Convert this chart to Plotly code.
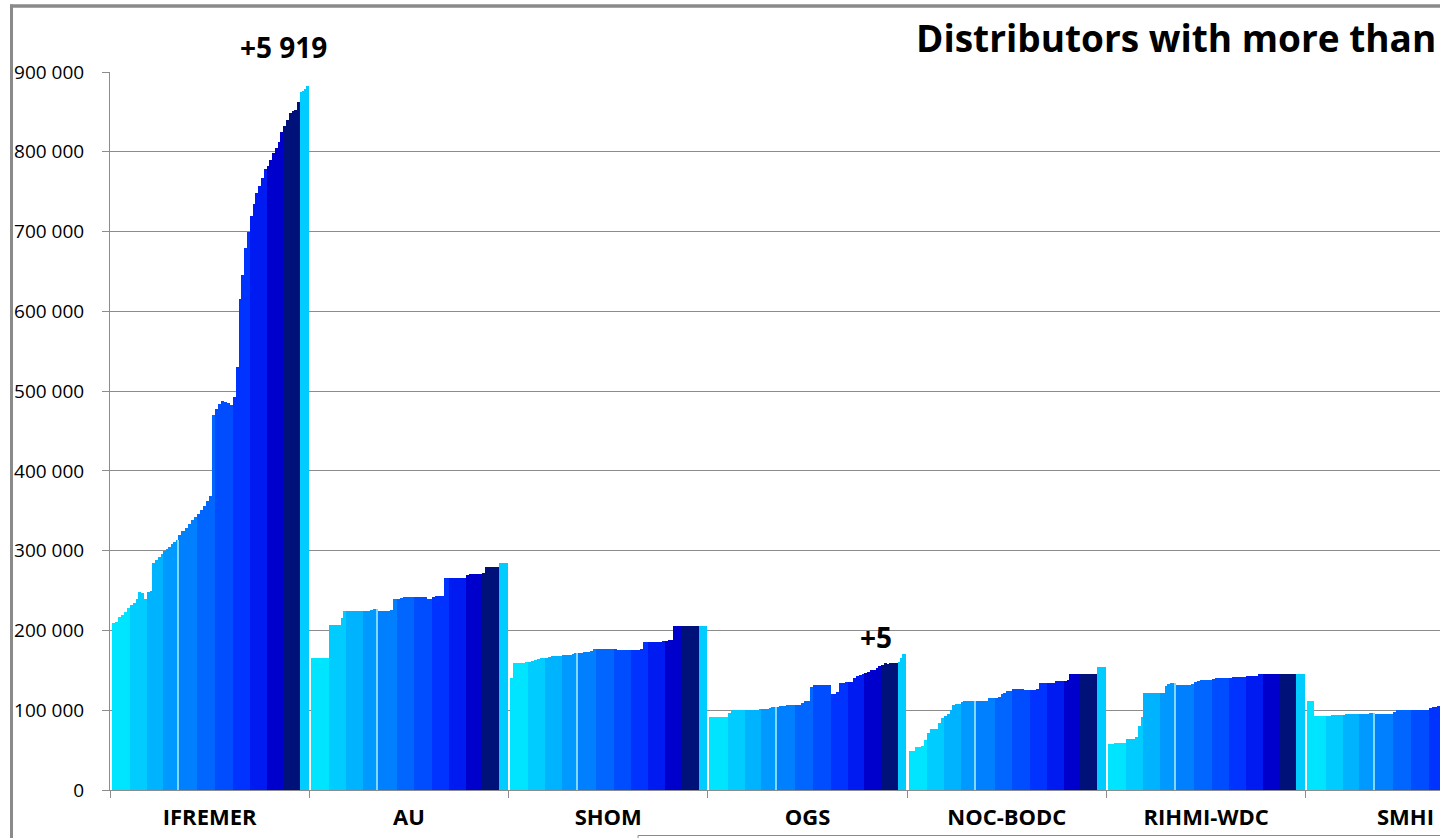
import plotly.graph_objects as go

# ---------------- data (values in thousands) ----------------
categories = ["IFREMER", "AU", "SHOM", "OGS", "NOC-BODC", "RIHMI-WDC", "SMHI"]

ifremer_bands = [
    [209, 210, 217, 219, 223, 228],
    [232, 235, 240, 248, 247, 240],
    [248, 249, 284, 288, 292, 296],
    [299, 302, 305, 308, 311, 313],
    [320, 325, 329, 333, 338, 342],
    [346, 351, 356, 362, 368, 470],
    [478, 484, 487, 486, 485, 482],
    [492, 530, 615, 645, 680, 700],
    [720, 735, 748, 757, 767, 778],
    [782, 790, 798, 805, 812, 825],
    [832, 840, 848, 851, 853, 862],
]
ifremer_final = [875, 876, 879, 882]

au_bands = [
    [166, 166, 166, 166, 166, 166],
    [207, 207, 207, 207, 215, 224],
    [224, 224, 224, 225, 225, 225],
    [225, 225, 225, 226, 227, 227],
    [225, 225, 225, 225, 226, 239],
    [240, 241, 242, 242, 242, 242],
    [242, 242, 242, 242, 240, 240],
    [242, 243, 243, 243, 266, 266],
    [266, 266, 266, 266, 266, 266],
    [269, 271, 271, 271, 271, 271],
    [272, 280, 280, 280, 280, 280],
]
au_final = [285, 285, 285, 285]

shom_bands = [
    [140, 159, 159, 159, 159, 160],
    [161, 162, 163, 164, 165, 165],
    [166, 167, 168, 168, 168, 168],
    [169, 169, 169, 169, 170, 172],
    [172, 172, 173, 173, 174, 177],
    [177, 177, 177, 177, 177, 177],
    [177, 176, 175, 175, 175, 175],
    [176, 176, 176, 177, 185, 185],
    [185, 185, 185, 185, 185, 187],
    [187, 188, 188, 205, 205, 205],
    [205, 205, 205, 205, 205, 205],
]
shom_final = [205, 205, 205, 205]

ogs_bands = [
    [91, 91, 91, 92, 92, 92],
    [96, 100, 100, 100, 100, 100],
    [100, 100, 100, 100, 100, 101],
    [102, 102, 102, 103, 104, 104],
    [104, 105, 105, 106, 106, 106],
    [107, 107, 109, 111, 112, 129],
    [131, 131, 131, 131, 131, 131],
    [120, 120, 123, 134, 134, 135],
    [135, 136, 141, 143, 144, 145],
    [147, 148, 150, 151, 153, 156],
    [157, 159, 158, 159, 159, 159],
]
ogs_final = [161, 166, 170, 171]

noc_bands = [
    [49, 49, 54, 54, 55, 63],
    [72, 76, 76, 77, 84, 90],
    [93, 95, 100, 107, 108, 108],
    [110, 111, 111, 111, 111, 111],
    [111, 111, 111, 112, 115, 115],
    [115, 116, 120, 121, 124, 124],
    [126, 126, 126, 126, 125, 125],
    [125, 125, 126, 134, 134, 134],
    [134, 134, 134, 137, 137, 137],
    [137, 138, 145, 145, 145, 145],
    [146, 146, 146, 146, 146, 146],
]
noc_final = [154, 154, 154, 154]

rihmi_bands = [
    [58, 58, 59, 59, 59, 59],
    [64, 64, 64, 66, 80, 92],
    [121, 121, 121, 121, 121, 121],
    [121, 121, 130, 133, 134, 134],
    [132, 132, 132, 132, 132, 133],
    [136, 137, 138, 138, 138, 138],
    [139, 140, 140, 140, 140, 140],
    [141, 142, 142, 142, 142, 142],
    [143, 143, 143, 143, 145, 145],
    [145, 145, 145, 145, 145, 145],
    [145, 145, 145, 145, 145, 145],
]
rihmi_final = [145, 145, 145, 145]

smhi_bands = [
    [111, 111, 93, 93, 93, 93],
    [93, 93, 94, 94, 94, 94],
    [94, 95, 95, 95, 95, 95],
    [95, 95, 95, 95, 96, 96],
    [95, 95, 95, 95, 95, 95],
    [98, 100, 100, 100, 100, 100],
    [100, 100, 100, 100, 100, 100],
    [103, 104, 104, 105, 105, 105],
]
smhi_final = []

all_bands = [ifremer_bands, au_bands, shom_bands, ogs_bands, noc_bands, rihmi_bands, smhi_bands]
all_finals = [ifremer_final, au_final, shom_final, ogs_final, noc_final, rihmi_final, smhi_final]

y_tickvals = [0, 100000, 200000, 300000, 400000, 500000, 600000, 700000, 800000, 900000]
y_ticktext = ["0", "100 000", "200 000", "300 000", "400 000", "500 000",
              "600 000", "700 000", "800 000", "900 000"]

annotation_texts = ["+5 919", "+5"]
title_text = "Distributors with more than"

# ---------------- styling / layout constants ----------------
band_colors = ["#00E5FF", "#00CCFF", "#00B3FF", "#0099FF", "#0080FF", "#0066FF",
               "#004DFF", "#0033FF", "#001AF2", "#0000CC", "#00127A"]
final_color = "#00CCFF"
seam_color = "#80D8FF"

W, H = 1440, 838
PL, PT, PLOT_BOTTOM = 110, 72, 790
PB = H - PLOT_BOTTOM
CAT_PX = 199.3
band_edges_px = [1.7, 20.0, 37.0, 53.5, 68.2, 87.5, 105.3, 123.0, 140.0, 156.7, 173.3, 190.0]
final_end_px = 198.5

xs, ys, ws, cs = [], [], [], []
for ci, bands in enumerate(all_bands):
    for bi, vals in enumerate(bands):
        x0 = ci + band_edges_px[bi] / CAT_PX
        x1 = ci + band_edges_px[bi + 1] / CAT_PX
        n = len(vals)
        w = (x1 - x0) / n
        for k, v in enumerate(vals):
            xs.append(x0 + (k + 0.5) * w)
            ys.append(v * 1000)
            ws.append(w * 1.08)
            cs.append(band_colors[bi])
    fin = all_finals[ci]
    if fin:
        x0 = ci + band_edges_px[11] / CAT_PX
        x1 = ci + final_end_px / CAT_PX
        w = (x1 - x0) / len(fin)
        for k, v in enumerate(fin):
            xs.append(x0 + (k + 0.5) * w)
            ys.append(v * 1000)
            ws.append(w * 1.05 if k < len(fin) - 1 else w)
            cs.append(final_color)

seam_x, seam_y = [], []
for ci, bands in enumerate(all_bands):
    if len(bands) > 4:
        seam_x.append(ci + band_edges_px[4] / CAT_PX)
        seam_y.append(bands[3][-1] * 1000)

fig = go.Figure()
fig.add_trace(go.Bar(x=xs, y=ys, width=ws, marker=dict(color=cs, line=dict(width=0)),
                     hoverinfo="y", showlegend=False))
fig.add_trace(go.Bar(x=seam_x, y=seam_y, width=[1.2 / CAT_PX] * len(seam_x),
                     marker=dict(color=seam_color, line=dict(width=0)),
                     hoverinfo="skip", showlegend=False))

x_max = (W - PL) / CAT_PX

fig.update_layout(
    width=W, height=H,
    margin=dict(l=PL, r=0, t=PT, b=PB, pad=0),
    paper_bgcolor="white", plot_bgcolor="white",
    barmode="overlay", bargap=0,
    font=dict(family="Open Sans, Liberation Sans, sans-serif", color="black"),
    xaxis=dict(
        range=[0, x_max], showgrid=False, zeroline=False,
        showline=True, linecolor="#8c8c8c", linewidth=1,
        tickmode="array", tickvals=[i + 0.5 for i in range(len(categories))],
        ticktext=categories, ticks="", ticklabelstandoff=8,
        tickfont=dict(size=22, family="Open Sans, sans-serif", color="black", weight="bold"),
        minor=dict(tickmode="linear", tick0=0, dtick=1, ticks="outside", ticklen=7,
                   tickcolor="#8c8c8c", tickwidth=1, showgrid=False),
        fixedrange=True,
    ),
    yaxis=dict(
        range=[0, 900000], tickmode="array", tickvals=y_tickvals, ticktext=y_ticktext,
        showgrid=True, gridcolor="#8c8c8c", gridwidth=1, zeroline=False,
        showline=True, linecolor="#8c8c8c", linewidth=1,
        ticks="outside", ticklen=7, tickcolor="#8c8c8c", ticklabelstandoff=14,
        tickfont=dict(size=19, family="Open Sans, sans-serif", color="black"),
        fixedrange=True,
    ),
)

def px_to_paper_x(px):
    return (px - PL) / (W - PL)

def px_to_paper_y(py):
    return (PLOT_BOTTOM - py) / (PLOT_BOTTOM - PT)

fig.add_annotation(text=title_text, xref="paper", yref="paper",
                   x=px_to_paper_x(1438), y=px_to_paper_y(37), xanchor="right", yanchor="middle",
                   showarrow=False, font=dict(size=37, color="black", weight="bold"))
fig.add_annotation(text=annotation_texts[0], xref="paper", yref="paper",
                   x=px_to_paper_x(283.5), y=px_to_paper_y(47), xanchor="center", yanchor="middle",
                   showarrow=False, font=dict(size=28, color="black", weight="bold"))
fig.add_annotation(text=annotation_texts[1], xref="paper", yref="paper",
                   x=px_to_paper_x(876), y=px_to_paper_y(637), xanchor="center", yanchor="middle",
                   showarrow=False, font=dict(size=28, color="black", weight="bold"))

border = "#8a8a8a"
fig.add_shape(type="line", xref="paper", yref="paper", layer="above",
              x0=px_to_paper_x(11.5), x1=px_to_paper_x(11.5), y0=px_to_paper_y(4.5), y1=px_to_paper_y(838),
              line=dict(color=border, width=3))
fig.add_shape(type="line", xref="paper", yref="paper", layer="above",
              x0=px_to_paper_x(10), x1=px_to_paper_x(1440), y0=px_to_paper_y(6), y1=px_to_paper_y(6),
              line=dict(color=border, width=3.5))
fig.add_shape(type="line", xref="paper", yref="paper", layer="above",
              x0=px_to_paper_x(638), x1=px_to_paper_x(1440), y0=px_to_paper_y(835.5), y1=px_to_paper_y(835.5),
              line=dict(color=border, width=1))
fig.add_shape(type="line", xref="paper", yref="paper", layer="above",
              x0=px_to_paper_x(638), x1=px_to_paper_x(638), y0=px_to_paper_y(835.5), y1=px_to_paper_y(838),
              line=dict(color=border, width=1))

fig.write_html("out.html", config={"displayModeBar": False},
               post_script="document.body.style.margin='0';document.body.style.overflow='hidden';")
